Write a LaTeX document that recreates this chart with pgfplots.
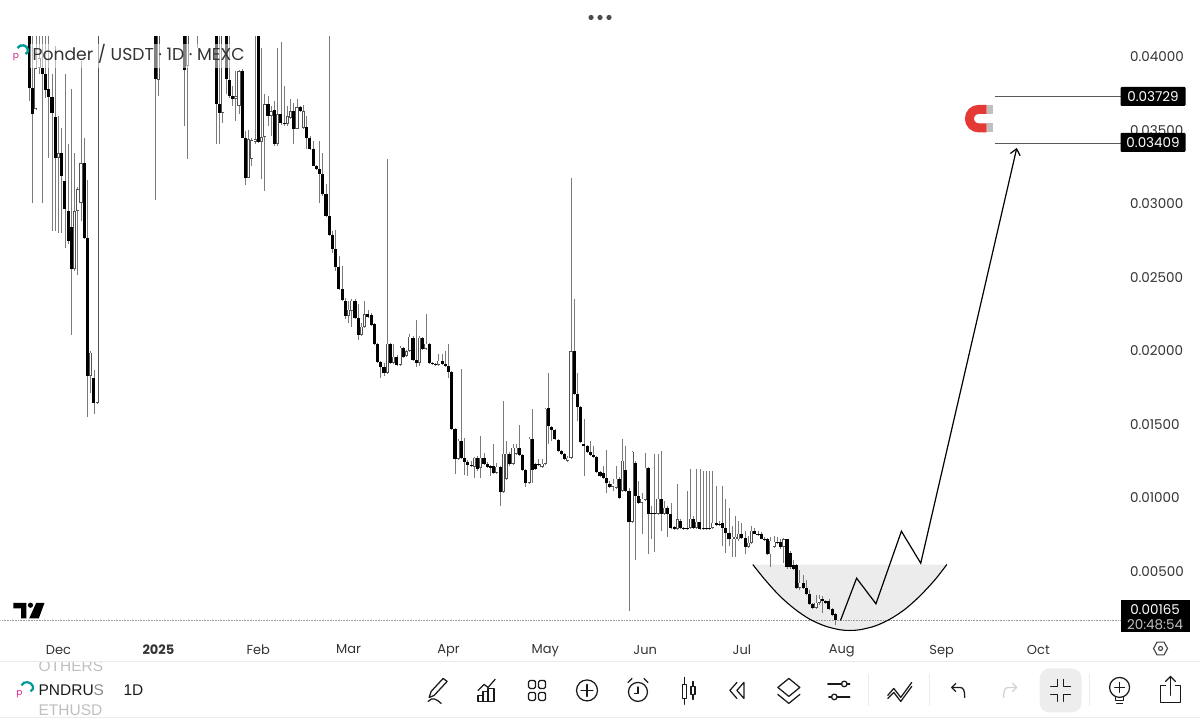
\documentclass[border=0pt]{standalone}
\usepackage{fontspec}
\setmainfont{Poppins}
\newfontfamily\uifont{Liberation Sans}
\usepackage{pgfplots}
\usepackage{pgfplotstable}
\pgfplotsset{compat=1.18}
\usetikzlibrary{arrows.meta}
\definecolor{wick}{HTML}{7A7A7A}
\definecolor{txt}{HTML}{333333}
\definecolor{ink}{HTML}{1A1A1A}
\definecolor{magred}{HTML}{E53935}
\pgfplotstableread{
d o h l c
-9 0.04500 0.04600 0.03701 0.03789
-8 0.03789 0.04500 0.03007 0.03612
-7 0.03646 0.04500 0.03640 0.03925
-6 0.03925 0.04500 0.03884 0.03993
-5 0.03925 0.04500 0.03007 0.03884
-4 0.03884 0.04500 0.03721 0.03776
-3 0.03782 0.04500 0.03313 0.03728
-2 0.03728 0.03884 0.02817 0.03619
-1 0.03592 0.04075 0.02817 0.03313
0 0.03313 0.03599 0.02803 0.03347
1 0.03347 0.03517 0.02803 0.03191
2 0.03157 0.03884 0.02701 0.02966
3 0.02953 0.03408 0.02728 0.02749
4 0.02844 0.03782 0.02110 0.02558
5 0.02558 0.03347 0.02545 0.02953
6 0.02953 0.03116 0.02518 0.03102
7 0.03007 0.03973 0.02885 0.03279
8 0.03279 0.03449 0.02762 0.02769
9 0.02769 0.03164 0.01552 0.01831
10 0.01831 0.02000 0.01715 0.01987
11 0.01817 0.01872 0.01572 0.01647
12 0.01647 0.04700 0.01640 0.04600
30 0.04500 0.04600 0.03028 0.03850
31 0.03844 0.04600 0.03735 0.04500
39 0.04500 0.04600 0.03531 0.03912
40 0.03939 0.04600 0.03306 0.04500
43 0.04300 0.04600 0.04061 0.04250
49 0.04500 0.04600 0.03408 0.03680
50 0.03680 0.04600 0.03408 0.03619
51 0.03619 0.04600 0.03551 0.04500
52 0.04500 0.04600 0.03748 0.03850
53 0.03844 0.04500 0.03721 0.03735
54 0.03735 0.03803 0.03667 0.03715
55 0.03715 0.03905 0.03565 0.03735
56 0.03667 0.03912 0.03612 0.03905
57 0.03905 0.03918 0.03449 0.03449
58 0.03449 0.03497 0.03130 0.03177
59 0.03177 0.03504 0.03177 0.03442
60 0.03306 0.03449 0.03259 0.03436
61 0.03422 0.04500 0.03408 0.03442
62 0.04600 0.04700 0.03415 0.03422
63 0.03422 0.04061 0.03170 0.03456
64 0.03456 0.03748 0.03089 0.03680
65 0.03680 0.03735 0.03530 0.03599
66 0.03599 0.03667 0.03463 0.03633
67 0.03640 0.03701 0.03395 0.03408
68 0.03408 0.04061 0.03395 0.03612
69 0.03612 0.04102 0.03538 0.03551
70 0.03551 0.03803 0.03531 0.03544
71 0.03544 0.03667 0.03531 0.03599
72 0.03585 0.03714 0.03578 0.03633
73 0.03633 0.03687 0.03408 0.03510
74 0.03510 0.03714 0.03510 0.03660
75 0.03660 0.03667 0.03626 0.03633
76 0.03517 0.03674 0.03510 0.03633
77 0.03524 0.03599 0.03374 0.03449
78 0.03449 0.03463 0.03367 0.03374
79 0.03374 0.03429 0.03259 0.03259
80 0.03259 0.03266 0.03230 0.03238
81 0.03238 0.03429 0.03007 0.03204
82 0.03204 0.03347 0.03055 0.03068
83 0.03068 0.03136 0.02912 0.02919
84 0.02919 0.04500 0.02783 0.02790
85 0.02790 0.02817 0.02667 0.02694
86 0.02694 0.02824 0.02545 0.02572
87 0.02572 0.02647 0.02416 0.02422
88 0.02422 0.02579 0.02341 0.02348
89 0.02341 0.02361 0.02218 0.02239
90 0.02239 0.02341 0.02191 0.02280
91 0.02273 0.02354 0.02164 0.02341
92 0.02341 0.02354 0.02218 0.02225
93 0.02225 0.02320 0.02076 0.02110
94 0.02110 0.02191 0.02103 0.02164
95 0.02164 0.02341 0.02157 0.02252
96 0.02252 0.02280 0.02225 0.02232
97 0.02246 0.02259 0.02171 0.02177
98 0.02184 0.02191 0.02041 0.02048
99 0.02048 0.02055 0.01919 0.01926
100 0.01926 0.01933 0.01817 0.01892
101 0.01892 0.01919 0.01831 0.01851
102 0.01851 0.03306 0.01844 0.02048
103 0.02048 0.02055 0.01912 0.01919
104 0.01919 0.02048 0.01912 0.01960
105 0.01960 0.01974 0.01899 0.01906
106 0.01906 0.02035 0.01899 0.02021
107 0.02021 0.02028 0.01953 0.01960
108 0.01967 0.02008 0.01960 0.02000
109 0.02000 0.02116 0.01994 0.02096
110 0.02089 0.02103 0.01933 0.01940
111 0.01940 0.02212 0.01892 0.01919
112 0.01919 0.02103 0.01899 0.02089
113 0.02089 0.02096 0.02008 0.02014
114 0.02014 0.02252 0.02008 0.02048
115 0.02048 0.02055 0.01912 0.01919
116 0.01919 0.01926 0.01906 0.01912
117 0.01912 0.01919 0.01899 0.01905
118 0.01906 0.01980 0.01899 0.01933
119 0.01933 0.01980 0.01906 0.01912
120 0.01912 0.02000 0.01892 0.01899
121 0.01899 0.02048 0.01817 0.01858
122 0.01858 0.01865 0.01464 0.01470
123 0.01470 0.01477 0.01164 0.01266
124 0.01266 0.01402 0.01260 0.01389
125 0.01389 0.01878 0.01266 0.01273
126 0.01273 0.01409 0.01158 0.01246
127 0.01246 0.01260 0.01151 0.01226
128 0.01226 0.01253 0.01212 0.01219
129 0.01212 0.01280 0.01137 0.01273
130 0.01273 0.01287 0.01185 0.01198
131 0.01205 0.01423 0.01137 0.01273
132 0.01273 0.01307 0.01226 0.01232
133 0.01232 0.01246 0.01205 0.01212
134 0.01219 0.01226 0.01151 0.01205
135 0.01219 0.01368 0.01164 0.01171
136 0.01171 0.01239 0.01164 0.01212
137 0.01212 0.01219 0.00947 0.01042
138 0.01042 0.01661 0.01035 0.01300
139 0.01130 0.01389 0.01124 0.01300
140 0.01300 0.01314 0.01219 0.01232
141 0.01232 0.01368 0.01226 0.01341
142 0.01300 0.01368 0.01294 0.01341
143 0.01341 0.01498 0.01287 0.01294
144 0.01294 0.01300 0.01185 0.01191
145 0.01191 0.01198 0.01076 0.01103
146 0.01103 0.01416 0.01096 0.01402
147 0.01402 0.01607 0.01103 0.01191
148 0.01232 0.01239 0.01191 0.01198
149 0.01232 0.01266 0.01219 0.01226
150 0.01212 0.01266 0.01205 0.01232
151 0.01232 0.01613 0.01226 0.01607
152 0.01613 0.01851 0.01368 0.01491
153 0.01484 0.01491 0.01389 0.01464
154 0.01464 0.01471 0.01396 0.01402
155 0.01396 0.01402 0.01314 0.01321
156 0.01321 0.01328 0.01294 0.01300
157 0.01300 0.01307 0.01260 0.01266
158 0.01253 0.01287 0.01246 0.01273
159 0.01273 0.03177 0.01266 0.02000
160 0.02000 0.02354 0.01701 0.01708
161 0.01708 0.01851 0.01525 0.01620
162 0.01620 0.01627 0.01375 0.01382
163 0.01368 0.01538 0.01151 0.01355
164 0.01355 0.01362 0.01307 0.01314
165 0.01314 0.01389 0.01287 0.01294
166 0.01294 0.01355 0.01273 0.01280
167 0.01280 0.01287 0.01171 0.01178
168 0.01178 0.01185 0.01144 0.01151
169 0.01171 0.01219 0.01130 0.01137
170 0.01137 0.01328 0.01035 0.01103
171 0.01096 0.01116 0.01069 0.01076
172 0.01076 0.01130 0.01049 0.01096
173 0.01069 0.01219 0.01062 0.01130
174 0.01130 0.01144 0.00994 0.01001
175 0.01049 0.01402 0.01042 0.01253
176 0.01191 0.01355 0.01042 0.01049
177 0.01049 0.01063 0.00226 0.00838
178 0.00838 0.01320 0.00831 0.01314
179 0.01239 0.01253 0.00573 0.01015
180 0.01015 0.01117 0.00960 0.00967
181 0.00967 0.01035 0.00756 0.00994
182 0.00988 0.01307 0.00981 0.01205
183 0.01205 0.01212 0.00620 0.00892
184 0.00899 0.00947 0.00722 0.00892
185 0.00899 0.01300 0.00634 0.00892
186 0.00892 0.01300 0.00885 0.00994
187 0.00994 0.01320 0.00777 0.00892
188 0.00892 0.00981 0.00885 0.00933
189 0.00933 0.00947 0.00736 0.00892
190 0.00892 0.00967 0.00790 0.00797
191 0.00804 0.00811 0.00783 0.00790
192 0.00790 0.01096 0.00783 0.00852
193 0.00845 0.00858 0.00790 0.00797
194 0.00797 0.00804 0.00783 0.00790
195 0.00797 0.01049 0.00783 0.00790
196 0.00797 0.01198 0.00790 0.00858
197 0.00858 0.00878 0.00790 0.00797
198 0.00797 0.01198 0.00790 0.00838
199 0.00838 0.01198 0.00783 0.00790
200 0.00795 0.01185 0.00783 0.00787
201 0.00795 0.01185 0.00783 0.00787
202 0.00795 0.01185 0.00783 0.00787
203 0.00797 0.01185 0.00790 0.00831
204 0.00831 0.01083 0.00810 0.00817
205 0.00824 0.00845 0.00810 0.00817
206 0.00831 0.01083 0.00675 0.00797
207 0.00797 0.00994 0.00627 0.00763
208 0.00763 0.00933 0.00675 0.00716
209 0.00716 0.00811 0.00600 0.00736
210 0.00716 0.00879 0.00600 0.00736
211 0.00716 0.00845 0.00709 0.00756
212 0.00750 0.00831 0.00722 0.00729
213 0.00729 0.00777 0.00614 0.00668
214 0.00668 0.00743 0.00661 0.00695
215 0.00695 0.00811 0.00688 0.00777
216 0.00777 0.00797 0.00750 0.00756
217 0.00756 0.00777 0.00743 0.00750
218 0.00756 0.00770 0.00716 0.00722
219 0.00722 0.00736 0.00709 0.00716
220 0.00722 0.00729 0.00607 0.00614
221 0.00614 0.00736 0.00532 0.00709
222 0.00668 0.00743 0.00661 0.00702
223 0.00702 0.00736 0.00688 0.00695
224 0.00702 0.00722 0.00654 0.00668
225 0.00668 0.00729 0.00559 0.00716
226 0.00716 0.00722 0.00518 0.00526
227 0.00627 0.00640 0.00518 0.00526
228 0.00539 0.00573 0.00505 0.00518
229 0.00539 0.00546 0.00382 0.00389
230 0.00389 0.00505 0.00369 0.00423
231 0.00423 0.00471 0.00382 0.00389
232 0.00389 0.00437 0.00335 0.00348
233 0.00348 0.00369 0.00267 0.00280
234 0.00280 0.00287 0.00246 0.00253
235 0.00253 0.00335 0.00246 0.00287
236 0.00287 0.00335 0.00273 0.00314
237 0.00314 0.00328 0.00219 0.00294
238 0.00294 0.00307 0.00280 0.00287
239 0.00294 0.00314 0.00233 0.00240
240 0.00240 0.00253 0.00192 0.00199
241 0.00206 0.00219 0.00131 0.00165
}\candles
\pgfplotsset{candle/.style={draw=none, mark=none, forget plot, error bars/.cd, y dir=plus, y explicit, error mark=none}}
\begin{document}
\begin{tikzpicture}[x=1pt,y=1pt]
\path (0,0) rectangle (1200,720);
\begin{axis}[
  at={(0pt,86pt)}, anchor=south west, scale only axis,
  width=1122pt, height=597pt,
  xmin=-17.98, xmax=329.8, ymin=0.000763, ymax=0.04136,
  axis line style={draw=none}, tick style={draw=none},
  xtick={0,31,62,90,121,151,182,212,243,274,304},
  xticklabels={Dec,\textbf{2025},Feb,Mar,Apr,May,Jun,Jul,Aug,Sep,Oct},
  xticklabel style={font=\fontsize{13}{15}\selectfont, text=txt, yshift=-8pt},
  ytick={0.005,0.01,0.015,0.02,0.025,0.03,0.035,0.04},
  yticklabel pos=right, scaled y ticks=false,
  yticklabel style={font=\fontsize{13.5}{15}\selectfont, text=txt, xshift=5pt,
    /pgf/number format/.cd, fixed, fixed zerofill, precision=5, assume math mode=true},
  clip=true, enlargelimits=false,
]
% bowl fill (under the candles)
\addplot[fill=black!10, fill opacity=0.75, draw=none, forget plot] coordinates {
(215.4,0.005456)(219.2,0.004416)(223.8,0.003307)(228.5,0.00241)(233.1,0.00173)(237.8,0.00127)(242.4,0.001017)(245.5,0.000968)(248.6,0.001017)(253.3,0.00127)(257.9,0.00173)(262.6,0.00241)(267.2,0.003307)(271.9,0.004416)(275.6,0.005456)};
% last price line
\addplot[draw=black!40, line width=0.6pt, densely dotted, forget plot] coordinates {(-17.98,0.00165)(329.8,0.00165)};
% wicks
\addplot[candle, error bar style={line width=0.75pt, color=wick}]
  table[x=d, y=l, y error plus expr=\thisrow{h}-\thisrow{l}] {\candles};
% up candles: outline
\addplot[candle, error bar style={line width=3.1pt, color=ink!75}]
  table[x=d, y expr={\thisrow{c}>\thisrow{o} ? \thisrow{o} : nan}, y error plus expr=\thisrow{c}-\thisrow{o}] {\candles};
% up candles: inside
\addplot[candle, error bar style={line width=1.5pt, color=white}]
  table[x=d, y expr={\thisrow{c}-\thisrow{o}>0.00012 ? \thisrow{o}+0.00005 : nan}, y error plus expr=\thisrow{c}-\thisrow{o}-0.0001] {\candles};
% down candles
\addplot[candle, error bar style={line width=3.1pt, color=black}]
  table[x=d, y expr={\thisrow{c}<\thisrow{o} ? \thisrow{c} : nan}, y error plus expr=\thisrow{o}-\thisrow{c}] {\candles};
% bowl curve
\addplot[black, line width=1.1pt, smooth, forget plot] coordinates {
(215.4,0.005456)(219.2,0.004416)(223.8,0.003307)(228.5,0.00241)(233.1,0.00173)(237.8,0.00127)(242.4,0.001017)(245.5,0.000968)(248.6,0.001017)(253.3,0.00127)(257.9,0.00173)(262.6,0.00241)(267.2,0.003307)(271.9,0.004416)(275.6,0.005456)};
% projected path
\addplot[black, line width=1.2pt, -{Straight Barb[length=6pt,width=10pt]}, forget plot] coordinates {
(242.6,0.001648)(247.6,0.004524)(253.6,0.002784)(261.5,0.00772)(267.5,0.005545)(297.3,0.03381)};
% long position range lines
\addplot[black!65, line width=1pt, forget plot] coordinates {(290.4,0.03729)(329.8,0.03729)};
\addplot[black!65, line width=1pt, forget plot] coordinates {(290.4,0.03409)(329.8,0.03409)};
\end{axis}
\begin{scope}[yshift=720pt, yscale=-1]
% dots on top
\foreach \x in {591,600,609} \fill[black!70] (\x,17.5) circle (2.6);
% translucent legend
\fill[white, opacity=0.5] (30,44) rectangle (244,68);
\node[anchor=west, inner sep=0, text=txt, font=\fontsize{17.2}{19}\selectfont] at (32,54) {Ponder / USDT · 1D · MEXC};
\draw[teal!80!cyan, line width=2.4pt] (17,48) .. controls (20,43.5) and (27,45) .. (27.5,50) .. controls (27.6,52) and (26.5,53.5) .. (25,54);
\node[text=magenta!70!violet, inner sep=0, font=\fontsize{9}{10}\selectfont] at (15.5,57) {p};
% TradingView logo
\fill[black] (13,603.5) -- (26,603.5) -- (26,619) -- (20.7,619) -- (20.7,609) -- (13,609) -- cycle;
\fill[black] (30,605.7) circle (2.6);
\fill[black] (35.7,603.5) -- (44,603.5) -- (38.3,619) -- (28.7,619) -- cycle;
% price boxes
\fill[black, rounded corners=1pt] (1121,87) rectangle (1186,106);
\node[text=white, font=\fontsize{13.5}{15}\selectfont, inner sep=0] at (1153.5,96.5) {0.03729};
\fill[black, rounded corners=1pt] (1121,133) rectangle (1186,152);
\node[text=white, font=\fontsize{13.5}{15}\selectfont, inner sep=0] at (1153.5,143) {0.03409};
\fill[black] (1121,601) rectangle (1190,633);
\node[text=white, font=\fontsize{13.5}{15}\selectfont, inner sep=0] at (1155.5,610.5) {0.00165};
\node[text=black!25, font=\fontsize{13.5}{15}\selectfont, inner sep=0] at (1155.5,625.5) {20:48:54};
% magnet
\draw[magred, line width=9pt] (987,109.5) -- (979,109.5) arc[start angle=-90, end angle=-270, radius=9.25] -- (987,128);
\draw[black!25, line width=9pt] (987,109.5) -- (993,109.5) (987,128) -- (993,128);
% gear
\draw[black!75, line width=1.1pt] (1168,649) -- (1164.5,655.4) -- (1157.5,655.4) -- (1154,649) -- (1157.5,642.6) -- (1164.5,642.6) -- cycle;
\draw[black!75, line width=1.1pt] (1161,649) circle (2);
% bottom bar
\draw[black!8, line width=1pt] (0,662.5) -- (1200,662.5);
\draw[black!8, line width=1pt] (0,718) -- (1200,718);
\begin{scope}
\clip (0,663) rectangle (110,690);
\node[anchor=west, inner sep=0, text=black!25, font=\uifont\fontsize{15.5}{17}\selectfont] at (38,666.5) {OTHERS};
\end{scope}
\node[anchor=west, inner sep=0, text=black!25, font=\uifont\fontsize{15.5}{17}\selectfont] at (38,711) {ETHUSD};
\node[anchor=west, inner sep=0, font=\uifont\fontsize{15.5}{17}\selectfont, text=ink] at (38,691) {PNDRU\textcolor{black!45}{S}};
\node[anchor=west, inner sep=0, font=\uifont\fontsize{15.5}{17}\selectfont, text=ink] at (123,691) {1D};
\draw[teal!80!cyan, line width=2.2pt] (21,686) .. controls (23,681) and (31,682) .. (32.5,687) .. controls (33,689) and (32,691) .. (30,692);
\node[text=magenta!70!violet, inner sep=0, font=\fontsize{9}{10}\selectfont] at (19,695) {p};
% separators
\foreach \x in {869,930,1090} \draw[black!8, line width=0.8pt] (\x,675) -- (\x,707);
\fill[black!7, rounded corners=10pt] (1040,669) rectangle (1082,713);
\begin{scope}[ink, line width=1.25pt, line join=round, line cap=round]
\begin{scope}[shift={(437,691)}]
\draw (6,-12) -- (10,-9) -- (-3,5) -- (-8,7) -- (-6,1) -- cycle;
\draw (-9,11) .. controls (-5,6) and (0,9) .. (4,13);
\end{scope}
\begin{scope}[shift={(487,691)}]
\draw (-9,11) rectangle (-4,5); \draw (-4,11) rectangle (1,1); \draw (1,11) rectangle (7,-2);
\draw (-9,0) -- (-3,-6) -- (1,-3) -- (8,-11);
\end{scope}
\begin{scope}[shift={(537,691)}]
\draw[rounded corners=1.5pt] (-8.5,-10) rectangle (-1.5,-2);
\draw[rounded corners=1.5pt] (1.5,-10) rectangle (8.5,-2);
\draw[rounded corners=1.5pt] (-8.5,2) rectangle (-1.5,10);
\draw[rounded corners=1.5pt] (1.5,2) rectangle (8.5,10);
\end{scope}
\begin{scope}[shift={(587,691)}]
\draw (0,0) circle (10.5); \draw (-6,0) -- (6,0) (0,-6) -- (0,6);
\end{scope}
\begin{scope}[shift={(638,691)}]
\draw (0,1.5) circle (9.5); \draw (0,-3.5) -- (0,3) -- (-3.5,3);
\draw (-10,-8) -- (-6,-12) (10,-8) -- (6,-12);
\end{scope}
\begin{scope}[shift={(688,691)}]
\draw (-5.5,-6) rectangle (-1.5,8); \draw (-3.5,-13) -- (-3.5,-6) (-3.5,8) -- (-3.5,14);
\draw (3,-4) rectangle (7,4); \draw (5,-9) -- (5,-4) (5,4) -- (5,9);
\end{scope}
\begin{scope}[shift={(738,691)}]
\draw (-1,-8) -- (-8,0) -- (-1,8); \draw (6,-8) -- (-1,0) -- (6,8) -- cycle;
\end{scope}
\begin{scope}[shift={(789,691)}]
\draw (0,-12) -- (11,-3) -- (0,6) -- (-11,-3) -- cycle;
\draw (-11,4) -- (0,13) -- (11,4);
\end{scope}
\begin{scope}[shift={(839,691)}]
\draw (-11,-6.5) -- (3,-6.5) (8,-6.5) -- (11,-6.5); \draw (5.5,-6.5) circle (2.8);
\draw (11,6.5) -- (-2,6.5) (-7,6.5) -- (-10,6.5); \draw (-4.5,6.5) circle (2.8);
\end{scope}
\begin{scope}[shift={(900,691)}]
\draw (-12,5) -- (-6,-2) -- (1,7) -- (12,-8);
\draw (-12,8) -- (-6,2) -- (1,11) -- (12,-4);
\end{scope}
\begin{scope}[shift={(959,691)}]
\draw (-3,-7) -- (-7,-3) -- (-3,1); \draw (-7,-3) -- (1,-3) .. controls (5,-3) and (6,0) .. (6,7);
\end{scope}
\begin{scope}[shift={(1010,691)}, black!18]
\draw (3,-7) -- (7,-3) -- (3,1); \draw (7,-3) -- (-1,-3) .. controls (-5,-3) and (-6,0) .. (-6,7);
\end{scope}
\begin{scope}[shift={(1061,691)}]
\draw (-10,-4) -- (-3,-4) -- (-3,-11); \draw (10,-4) -- (3,-4) -- (3,-11);
\draw (-10,4) -- (-3,4) -- (-3,11); \draw (10,4) -- (3,4) -- (3,11);
\end{scope}
\begin{scope}[shift={(1120,691)}]
\draw (0,-3) circle (10); \draw (-5,-3) -- (5,-3) (0,-8) -- (0,2);
\draw (-4,7) -- (-4,10) -- (4,10) -- (4,7); \draw (-3,13) -- (3,13);
\end{scope}
\begin{scope}[shift={(1171,691)}]
\draw (-5,-5) -- (-10,-5) -- (-10,12) -- (10,12) -- (10,-5) -- (5,-5);
\draw (0,5) -- (0,-14); \draw (-5,-9) -- (0,-14) -- (5,-9);
\end{scope}
\end{scope}
\end{scope}
\end{tikzpicture}
\end{document}
